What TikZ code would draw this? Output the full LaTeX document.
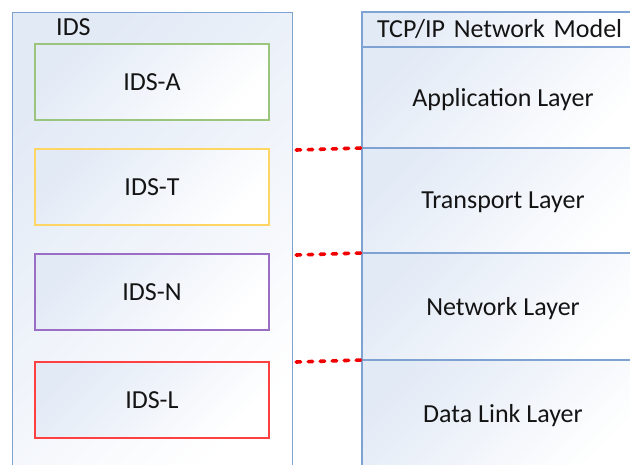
\documentclass[tikz,border=0pt]{standalone}
\usepackage{fontspec}
\setmainfont{Carlito}
\usepackage{tikz}
\usetikzlibrary{positioning}

\definecolor{frameblue}{RGB}{126,163,210}
\definecolor{paleblue}{RGB}{226,234,246}
\definecolor{idsgreen}{RGB}{155,196,124}
\definecolor{idsyellow}{RGB}{255,214,100}
\definecolor{idspurple}{RGB}{154,110,196}
\definecolor{idsred}{RGB}{255,64,64}
\definecolor{linkred}{RGB}{240,0,0}
\definecolor{inktext}{RGB}{20,20,20}

\begin{document}
\begin{tikzpicture}[x=1pt,y=-1pt,
		font=\fontsize{26}{30}\selectfont, text=inktext,
		soft/.style={top color=paleblue, bottom color=white, shading angle=45},
		idsbox/.style={draw, rectangle, soft, line width=1.6pt, minimum width=234pt, minimum height=76pt},
		layer/.style={draw=frameblue, rectangle, soft, line width=1.2pt, minimum width=282pt, minimum height=106pt, inner sep=0pt, outer sep=0pt},
		band/.style={layer, text depth=0pt},
		linkline/.style={linkred, line width=3.6pt, line cap=round, dash pattern=on 4.5pt off 7.5pt}]
				\useasboundingbox (0,0) rectangle (630,465);
				\clip (0,0) rectangle (630,465);

				% IDS side
				\node (ids) [draw=frameblue, rectangle, soft, line width=1.2pt, minimum width=280pt, minimum height=480pt, anchor=north west] at (12,12) {};
				\node (idstitle) [anchor=base west, inner sep=0pt] at (56,36) {IDS};
				\node (idsA) [idsbox, draw=idsgreen] at (152,82) {IDS-A};
				\node (idsT) [idsbox, draw=idsyellow, below of=idsA, node distance=105pt] {IDS-T};
				\node (idsN) [idsbox, draw=idspurple, below of=idsT, node distance=105pt] {IDS-N};
				\node (idsL) [idsbox, draw=idsred, below of=idsN, node distance=108pt] {IDS-L};

				% TCP/IP side
				\node (model) [layer, minimum height=35pt, anchor=north west, inner xsep=15pt, text width=252pt] at (362,12) {TCP/IP Network Model};
				\node (app) [band, minimum height=101pt, below=0pt of model] {Application Layer};
				\node (trans) [band, minimum height=105pt, below=0pt of app] {Transport Layer};
				\node (net) [band, minimum height=107pt, below=0pt of trans] {Network Layer};
				\node (link) [band, below=0pt of net] {Data Link Layer};

				% Links
				\draw[linkline] (ids.east |- app.south west) ++(3pt,-2pt) -- (app.south west);
				\draw[linkline] (ids.east |- trans.south west) ++(3pt,-2pt) -- (trans.south west);
				\draw[linkline] (ids.east |- net.south west) ++(3pt,-2pt) -- (net.south west);
\end{tikzpicture}
\end{document}
